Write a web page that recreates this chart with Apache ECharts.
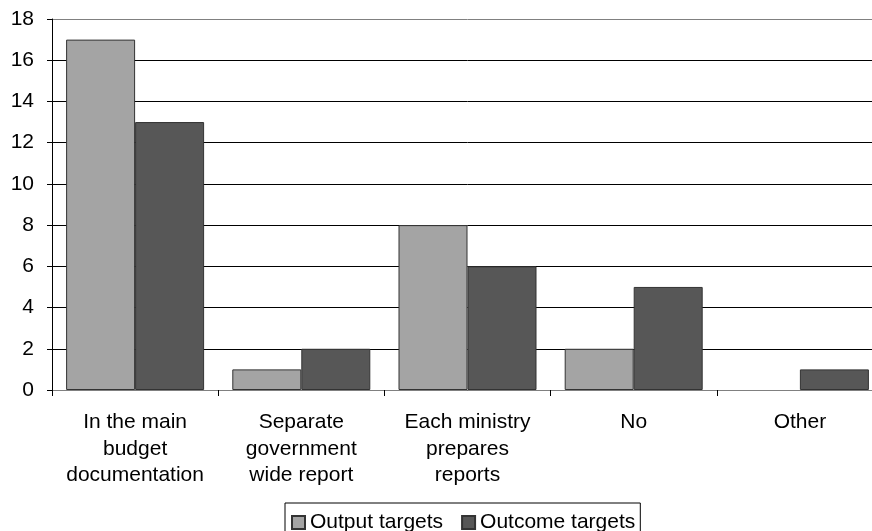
<!DOCTYPE html>
<html>
<head>
<meta charset="utf-8">
<script src="https://cdn.jsdelivr.net/npm/echarts@6/dist/echarts.min.js"></script>
<style>
  html, body { margin: 0; padding: 0; background: #fff; overflow: hidden; }
  /* the plot runs past the right edge of the picture, so the canvas is wider than the window */
  #chart { width: 890px; height: 531px; }
</style>
</head>
<body>
<div id="chart"></div>
<script>
// categories and values
var categories = [
  'In the main\nbudget\ndocumentation',
  'Separate\ngovernment\nwide report',
  'Each ministry\nprepares\nreports',
  'No',
  'Other'
]
var outputTargets = [17, 1, 8, 2, 0]
var outcomeTargets = [13, 2, 6, 5, 1]
var yTicks = [0, 2, 4, 6, 8, 10, 12, 14, 16, 18]

var font = 'Liberation Sans, Arial, sans-serif'
// top line (at 18) is grey like a plot border, the rest black
var gridColors = yTicks.map(function (v, i) {
  return i === yTicks.length - 1 ? '#808080' : '#000000'
})

// zero-height bars leave no mark in the original
function barData (arr) {
  return arr.map(function (v) {
    return v === 0 ? { value: v, itemStyle: { borderWidth: 0 } } : v
  })
}

var chart = echarts.init(document.getElementById('chart'))
var option = {
  animation: false,
  backgroundColor: '#ffffff',
  grid: {
    left: 52,
    top: 19,
    width: 831,
    height: 371,
    containLabel: false
  },
  legend: {
    left: 285,
    top: 503,
    orient: 'horizontal',
    icon: 'rect',
    itemWidth: 13,
    itemHeight: 13,
    itemGap: 18,
    padding: [9, 5, 10, 6],
    borderColor: '#000000',
    borderWidth: 1,
    borderRadius: 0,
    textStyle: {
      fontFamily: font,
      fontSize: 21,
      color: '#000000'
    },
    data: ['Output targets', 'Outcome targets']
  },
  xAxis: {
    type: 'category',
    data: categories,
    axisLine: { show: true, lineStyle: { color: '#808080', width: 1 } },
    axisTick: { show: true, length: 6, lineStyle: { color: '#000000' } },
    axisLabel: {
      margin: 19,
      interval: 0,
      fontFamily: font,
      fontSize: 21,
      lineHeight: 26.5,
      color: '#000000',
      align: 'center'
    },
    splitLine: { show: false }
  },
  yAxis: {
    type: 'value',
    min: 0,
    max: 18,
    interval: 2,
    axisLine: { show: true, lineStyle: { color: '#000000', width: 1 } },
    axisTick: { show: true, length: 5, lineStyle: { color: '#000000' } },
    axisLabel: {
      margin: 18,
      fontFamily: font,
      fontSize: 21,
      color: '#000000'
    },
    splitLine: {
      show: true,
      lineStyle: { color: gridColors, width: 1 }
    }
  },
  series: [
    {
      name: 'Output targets',
      type: 'bar',
      data: barData(outputTargets),
      barWidth: 69,
      barGap: '0%',
      itemStyle: {
        color: '#a4a4a4',
        borderColor: '#333333',
        borderWidth: 1
      }
    },
    {
      name: 'Outcome targets',
      type: 'bar',
      data: barData(outcomeTargets),
      barWidth: 69,
      barGap: '0%',
      itemStyle: {
        color: '#575757',
        borderColor: '#333333',
        borderWidth: 1
      }
    }
  ]
}
chart.setOption(option)
</script>
</body>
</html>
